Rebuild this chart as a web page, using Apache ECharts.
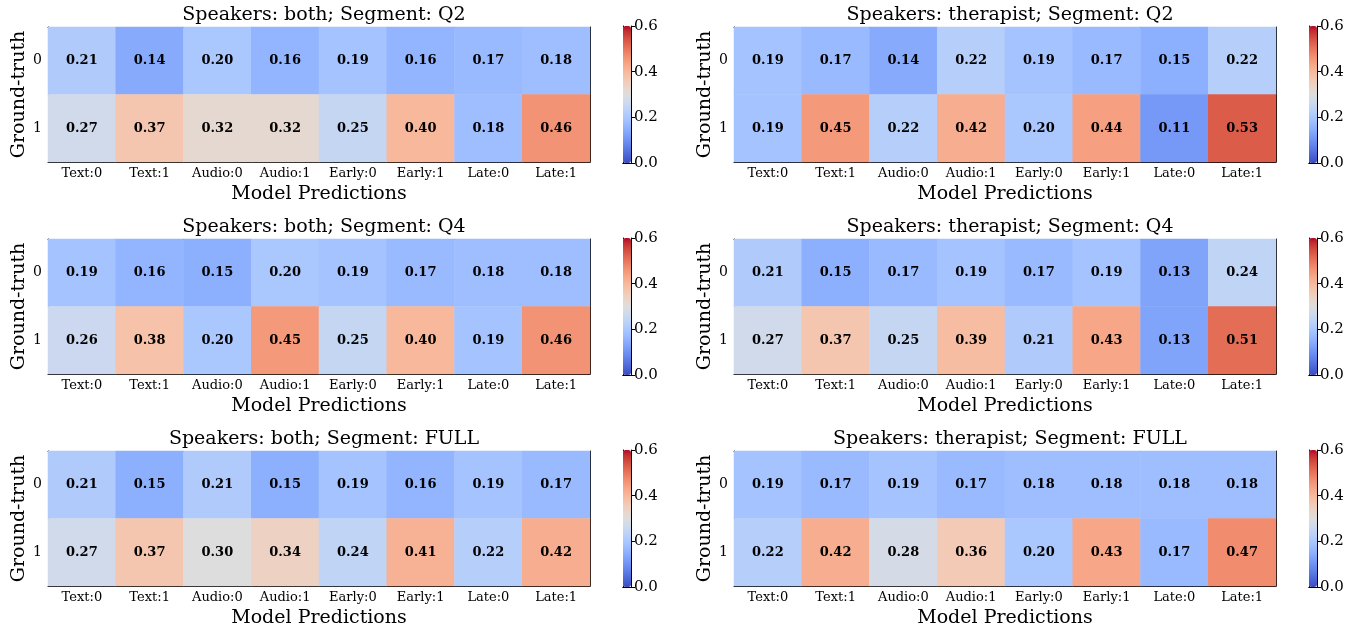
<!DOCTYPE html>
<html>
<head>
<meta charset="utf-8">
<script src="https://cdn.jsdelivr.net/npm/echarts@6/dist/echarts.min.js"></script>
<style>
  html, body { margin: 0; padding: 0; background: #fff; }
  #chart { width: 1367px; height: 630px; }
</style>
</head>
<body>
<div id="chart"></div>
<script>
var predictions = ['Text:0', 'Text:1', 'Audio:0', 'Audio:1', 'Early:0', 'Early:1', 'Late:0', 'Late:1'];
var truths = ['0', '1'];
var cbTicks = [0, 0.2, 0.4, 0.6];

// one pair of rows per panel: [ground-truth 0, ground-truth 1]
var bothQ2 = [[0.21, 0.14, 0.20, 0.16, 0.19, 0.16, 0.17, 0.18],
              [0.27, 0.37, 0.32, 0.32, 0.25, 0.40, 0.18, 0.46]];
var therapistQ2 = [[0.19, 0.17, 0.14, 0.22, 0.19, 0.17, 0.15, 0.22],
                   [0.19, 0.45, 0.22, 0.42, 0.20, 0.44, 0.11, 0.53]];
var bothQ4 = [[0.19, 0.16, 0.15, 0.20, 0.19, 0.17, 0.18, 0.18],
              [0.26, 0.38, 0.20, 0.45, 0.25, 0.40, 0.19, 0.46]];
var therapistQ4 = [[0.21, 0.15, 0.17, 0.19, 0.17, 0.19, 0.13, 0.24],
                   [0.27, 0.37, 0.25, 0.39, 0.21, 0.43, 0.13, 0.51]];
var bothFull = [[0.21, 0.15, 0.21, 0.15, 0.19, 0.16, 0.19, 0.17],
                [0.27, 0.37, 0.30, 0.34, 0.24, 0.41, 0.22, 0.42]];
var therapistFull = [[0.19, 0.17, 0.19, 0.17, 0.18, 0.18, 0.18, 0.18],
                     [0.22, 0.42, 0.28, 0.36, 0.20, 0.43, 0.17, 0.47]];

var panels = [
  {title: 'Speakers: both; Segment: Q2', values: bothQ2},
  {title: 'Speakers: therapist; Segment: Q2', values: therapistQ2},
  {title: 'Speakers: both; Segment: Q4', values: bothQ4},
  {title: 'Speakers: therapist; Segment: Q4', values: therapistQ4},
  {title: 'Speakers: both; Segment: FULL', values: bothFull},
  {title: 'Speakers: therapist; Segment: FULL', values: therapistFull}
];

// matplotlib coolwarm
var coolwarm = ['#3b4cc0', '#445acc', '#4d68d7', '#5775e1', '#6282ea', '#6c8ef1', '#779af7', '#82a5fb',
  '#8db0fe', '#98b9ff', '#a3c2ff', '#aec9fd', '#b8d0f9', '#c2d5f4', '#ccd9ee', '#d5dbe6',
  '#dddddd', '#e5d8d1', '#ecd3c5', '#f1ccb8', '#f5c4ac', '#f7bba0', '#f7b194', '#f7a687',
  '#f49a7b', '#f18d6f', '#ec7f63', '#e57058', '#de604d', '#d55042', '#cb3e38', '#c0282f', '#b40426'];

var FONT = 'DejaVu Serif';
var colLeft = [48, 734];
var rowTop = [27, 239, 451];
var plotW = 542, plotH = 135;
var cbOffset = 575, cbW = 8;

var grids = [], xAxes = [], yAxes = [], series = [], titles = [], visualMaps = [];

panels.forEach(function (p, i) {
  var left = colLeft[i % 2], top = rowTop[Math.floor(i / 2)];
  var g = grids.length;
  grids.push({left: left, top: top, width: plotW, height: plotH});
  titles.push({
    text: p.title, left: left + plotW / 2, top: top - 26, textAlign: 'center',
    textStyle: {fontFamily: FONT, fontSize: 19, fontWeight: 'normal', color: '#000'}
  });
  xAxes.push({
    type: 'category', gridIndex: g, data: predictions,
    name: 'Model Predictions', nameLocation: 'middle', nameGap: 23,
    nameTextStyle: {fontFamily: FONT, fontSize: 19, color: '#000'},
    axisLine: {lineStyle: {color: '#000', width: 1}},
    axisTick: {alignWithLabel: true, length: 4, lineStyle: {color: '#000'}},
    axisLabel: {fontFamily: FONT, fontSize: 13, color: '#000', margin: 5},
    splitLine: {show: false}
  });
  yAxes.push({
    type: 'category', gridIndex: g, data: truths, inverse: true,
    name: 'Ground-truth', nameLocation: 'middle', nameGap: 19,
    nameTextStyle: {fontFamily: FONT, fontSize: 19, color: '#000'},
    axisLine: {lineStyle: {color: '#000', width: 1}},
    axisTick: {alignWithLabel: true, length: 4, lineStyle: {color: '#000'}},
    axisLabel: {fontFamily: FONT, fontSize: 14, color: '#000', margin: 6},
    splitLine: {show: false}
  });
  // top/right spines
  xAxes.push({type: 'category', gridIndex: g, data: predictions, position: 'top',
    axisLine: {lineStyle: {color: '#000'}}, axisTick: {show: false}, axisLabel: {show: false}});
  yAxes.push({type: 'category', gridIndex: g, data: truths, position: 'right',
    axisLine: {lineStyle: {color: '#000'}}, axisTick: {show: false}, axisLabel: {show: false}});

  var cells = [];
  p.values.forEach(function (row, r) {
    row.forEach(function (v, c) { cells.push([c, r, v]); });
  });
  var sIdx = series.length;
  series.push({
    type: 'heatmap', xAxisIndex: xAxes.length - 2, yAxisIndex: yAxes.length - 2, data: cells,
    label: {show: true, fontFamily: FONT, fontSize: 13, fontWeight: 'bold', color: '#000',
      formatter: function (d) { return d.value[2].toFixed(2); }},
    emphasis: {disabled: true}
  });

  // colorbar
  var cbLeft = left + cbOffset, cbTop = top - 1, cbH = plotH + 2;
  visualMaps.push({
    type: 'continuous', seriesIndex: sIdx, min: 0, max: 0.6,
    left: cbLeft, top: cbTop, itemWidth: cbW, itemHeight: cbH, padding: 0,
    calculable: false, showLabel: false, text: null, hoverLink: false,
    inRange: {color: coolwarm}
  });
  var cg = grids.length;
  grids.push({left: cbLeft, top: cbTop, width: cbW, height: cbH});
  xAxes.push({type: 'category', gridIndex: cg, data: [''], show: false});
  yAxes.push({
    type: 'value', gridIndex: cg, position: 'right', min: cbTicks[0], max: cbTicks[cbTicks.length - 1],
    interval: 0.2,
    axisLine: {show: true, lineStyle: {color: '#000'}},
    axisTick: {show: true, length: 4, lineStyle: {color: '#000'}},
    axisLabel: {fontFamily: FONT, fontSize: 15, color: '#000', margin: 3,
      formatter: function (v) { return v.toFixed(1); }},
    splitLine: {show: false}
  });
  xAxes.push({type: 'category', gridIndex: cg, data: [''], position: 'top',
    axisLine: {show: true, lineStyle: {color: '#000'}}, axisTick: {show: false}, axisLabel: {show: false}});
  yAxes.push({type: 'value', gridIndex: cg, position: 'left', min: 0, max: 0.6,
    axisLine: {show: true, lineStyle: {color: '#000'}}, axisTick: {show: false}, axisLabel: {show: false},
    splitLine: {show: false}});
  xAxes.push({type: 'category', gridIndex: cg, data: [''], position: 'bottom',
    axisLine: {show: true, onZero: false, lineStyle: {color: '#000'}}, axisTick: {show: false}, axisLabel: {show: false}});
});

var chart = echarts.init(document.getElementById('chart'), null, {renderer: 'canvas'});
chart.setOption({
  animation: false,
  backgroundColor: '#fff',
  title: titles,
  grid: grids,
  xAxis: xAxes,
  yAxis: yAxes,
  visualMap: visualMaps,
  series: series
});
</script>
</body>
</html>
